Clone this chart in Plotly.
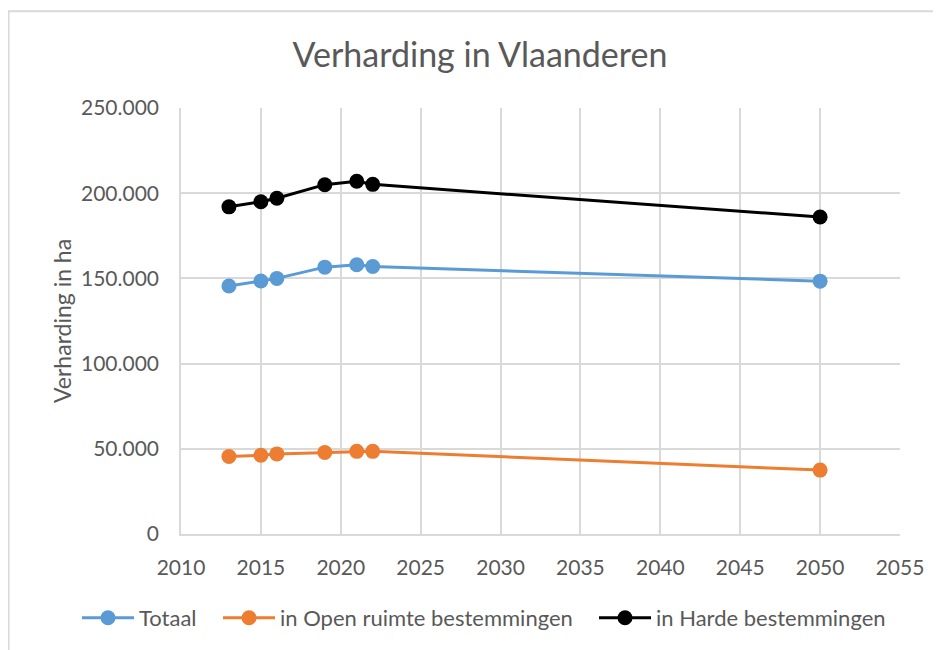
import plotly.graph_objects as go

years = [2013, 2015, 2016, 2019, 2021, 2022, 2050]
totaal = [145500, 148500, 150000, 156600, 158000, 157000, 148400]
open_ruimte = [45500, 46200, 47000, 47800, 48500, 48500, 37500]
harde = [192000, 195000, 197000, 205000, 207000, 205200, 186000]

series_names = ["Totaal", "in Open ruimte bestemmingen", "in Harde bestemmingen"]
colors = ["#5B9BD5", "#ED7D31", "#000000"]

x_ticks = [2010, 2015, 2020, 2025, 2030, 2035, 2040, 2045, 2050, 2055]
y_ticks = [0, 50000, 100000, 150000, 200000, 250000]
y_tick_text = ["0", "50.000", "100.000", "150.000", "200.000", "250.000"]

FONT = "Lato, Roboto, 'Open Sans', sans-serif"
GRID = "#D9D9D9"
TXT = "#595959"

# page is offset by the 8px body margin
OFF = 8
W, H = 941 - OFF, 650 - OFF
L, T = 181 - OFF, 108 - OFF
R = W - (900 - OFF)
B = H - (535 - OFF)
pw, ph = W - L - R, H - T - B

def px(x):  # page pixel x -> paper
    return (x - OFF - L) / pw

def py(y):  # page pixel y -> paper
    return (H - B - (y - OFF)) / ph

legend_keys = ["legend", "legend2", "legend3"]
legend_text_x = [139, 280, 656]

fig = go.Figure()
for name, vals, c, lk in zip(series_names, [totaal, open_ruimte, harde], colors, legend_keys):
    fig.add_trace(go.Scatter(
        x=years, y=vals, name=name, mode="lines+markers",
        line=dict(color=c, width=3),
        marker=dict(color=c, size=15),
        legend=lk,
    ))

legends = {}
for lk, tx in zip(legend_keys, legend_text_x):
    legends[lk] = dict(orientation="h", x=px(tx - 62), xanchor="left", y=py(618),
                       yanchor="middle", font=dict(size=22, color=TXT),
                       bgcolor="rgba(0,0,0,0)", itemwidth=52)

fig.update_layout(
    width=W, height=H,
    margin=dict(l=L, r=R, t=T, b=B),
    paper_bgcolor="white", plot_bgcolor="white",
    font=dict(family=FONT, color=TXT, size=21),
    title=dict(text="Verharding in Vlaanderen", font=dict(size=34, color=TXT),
               xref="container", x=(480 - OFF) / W, xanchor="center",
               yref="container", y=1 - (55 - OFF) / H, yanchor="middle"),
    xaxis=dict(range=[2010, 2055], tickvals=x_ticks, showgrid=True, gridcolor=GRID,
               gridwidth=1.5, zeroline=False, showline=True, linecolor=GRID, linewidth=1.5,
               ticks="outside", ticklen=14, tickcolor="rgba(0,0,0,0)",
               tickfont=dict(size=21, color=TXT), mirror=False),
    yaxis=dict(range=[0, 250000], tickvals=y_ticks, ticktext=y_tick_text, showgrid=True,
               gridcolor=GRID, gridwidth=1.5, zeroline=False, showline=True, linecolor=GRID,
               linewidth=1.5, ticks="outside", ticklen=16, tickcolor="rgba(0,0,0,0)",
               tickfont=dict(size=21, color=TXT)),
    showlegend=True,
    annotations=[dict(text="Verharding in ha", xref="paper", yref="paper",
                      x=px(62), y=0.5, xanchor="center", yanchor="middle",
                      textangle=-90, showarrow=False, font=dict(size=23, color=TXT))],
    shapes=[dict(type="rect", xref="paper", yref="paper",
                 x0=px(8.5), y0=py(700), x1=px(1000), y1=py(11),
                 line=dict(color=GRID, width=2), fillcolor="rgba(0,0,0,0)", layer="below")],
    **legends,
)

fig.write_html("out.html")
